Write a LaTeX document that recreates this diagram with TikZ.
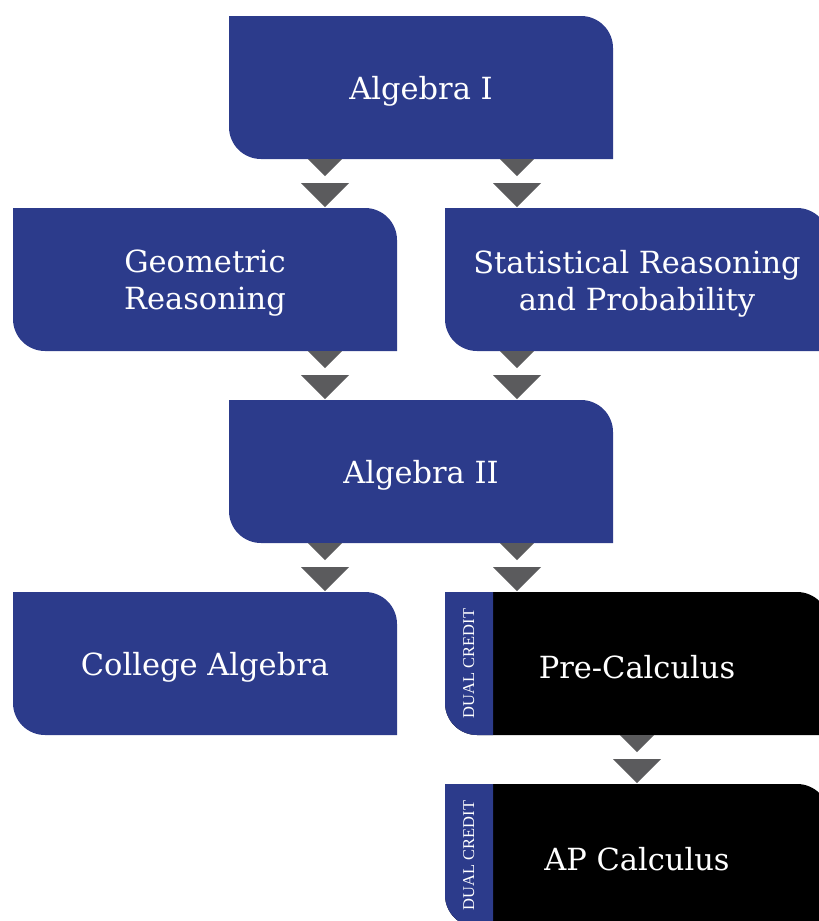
\documentclass[tikz,border=0pt]{standalone}
\usepackage{fontspec}
\setmainfont{DejaVu Serif}
\newfontfamily\dcfont{Liberation Serif}
\usetikzlibrary{calc}
\definecolor{boxblue}{HTML}{2C3B8B}
\definecolor{arrowgrey}{HTML}{5B5B5D}
\newcommand\leafpath{(path picture bounding box.north west) -- ([xshift=-32pt]path picture bounding box.north east) arc[start angle=90,end angle=0,radius=32pt] -- (path picture bounding box.south east) -- ([xshift=32pt]path picture bounding box.south west) arc[start angle=270,end angle=180,radius=32pt] -- cycle}
\newcommand\lw[1]{\raisebox{0pt}[\dimexpr\height+8pt\relax]{#1}}
\tikzset{
  course/.style={text=white, font=\fontsize{30.5}{37}\selectfont, align=center,
    minimum width=384pt, minimum height=143pt, inner sep=0pt},
  bluecourse/.style={course, path picture={\fill[boxblue] \leafpath;}},
  dualcourse/.style={course, path picture={\fill[black] \leafpath;
      \fill[boxblue] (path picture bounding box.north west) -- ([xshift=48pt]path picture bounding box.north west) -- ([xshift=48pt]path picture bounding box.south west) -- ([xshift=32pt]path picture bounding box.south west) arc[start angle=270,end angle=180,radius=32pt] -- cycle;}},
  dclabel/.style={text=white, font=\dcfont\fontsize{16.5}{16.5}\selectfont, rotate=90, inner sep=0pt},
}
\newcommand\flowarrow[2]{%
  \fill[arrowgrey] ($(#1 |- #2.south)+(-17pt,0)$) -- ++(34pt,0) -- ++(-17pt,-17pt) -- cycle;
  \fill[arrowgrey] ($(#1 |- #2.south)+(-24pt,-24pt)$) -- ++(48pt,0) -- ++(-24pt,-24pt) -- cycle;}
\begin{document}
\begin{tikzpicture}[x=1pt,y=1pt]
\useasboundingbox (0,0) rectangle (819,-921);
\clip (0,0) rectangle (819,-921);
\coordinate (cl) at (325,0);
\coordinate (cr) at (517,0);
\coordinate (cp) at (637,0);
\node[bluecourse] (alg1) at (421,-87.5) {\lw{Algebra I}};
\node[bluecourse] (geo) at (205,-279.5) {\lw{Geometric}\\Reasoning};
\node[bluecourse] (stat) at (637,-279.5) {\lw{Statistical Reasoning}\\and Probability};
\node[bluecourse] (alg2) at (421,-471.5) {\lw{Algebra II}};
\node[bluecourse] (col) at (205,-663.5) {\lw{College Algebra}};
\node[dualcourse] (pre) at (637,-663.5) {\lw{Pre-Calculus}};
\node[dualcourse] (ap) at (637,-855.5) {\lw{AP Calculus}};
\node[dclabel] (dc1) at ([xshift=24pt]pre.west) {DUAL CREDIT};
\node[dclabel] (dc2) at ([xshift=24pt]ap.west) {DUAL CREDIT};
\flowarrow{cl}{alg1}
\flowarrow{cr}{alg1}
\flowarrow{cl}{geo}
\flowarrow{cr}{stat}
\flowarrow{cl}{alg2}
\flowarrow{cr}{alg2}
\flowarrow{cp}{pre}
\end{tikzpicture}
\end{document}
